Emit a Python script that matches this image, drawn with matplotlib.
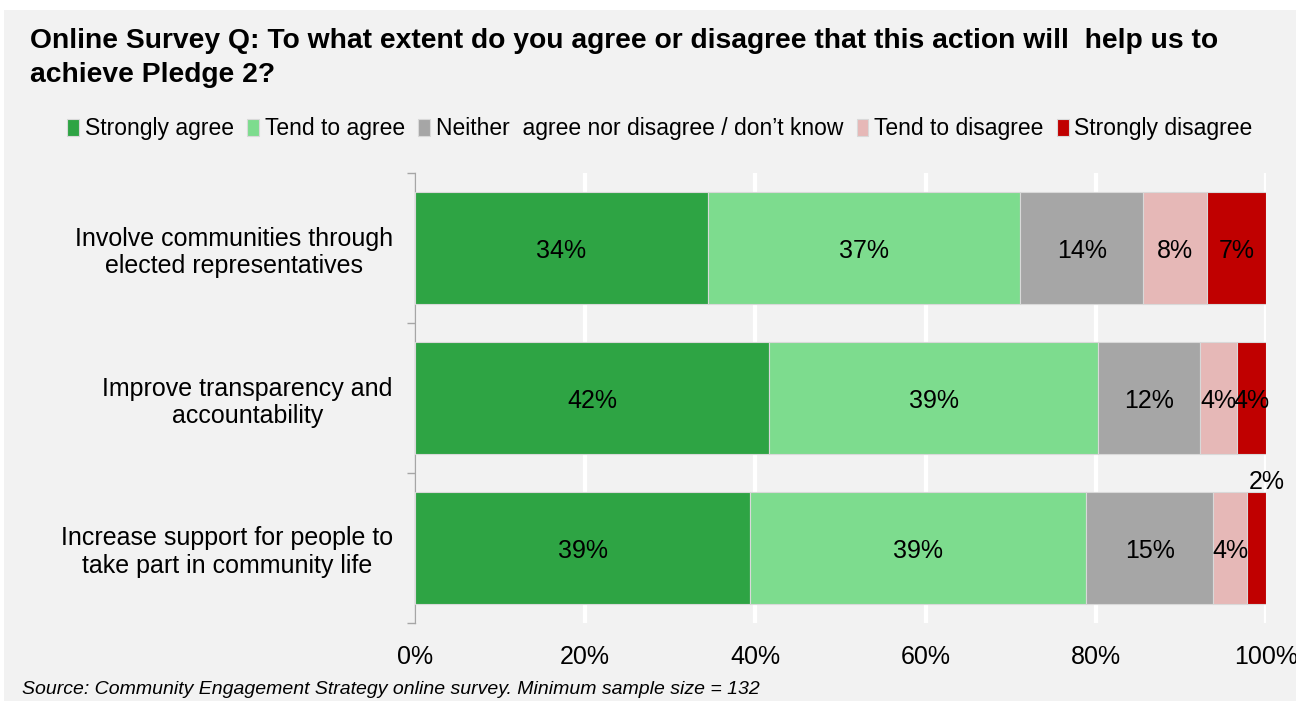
import numpy as np
import matplotlib
matplotlib.use("Agg")
import matplotlib.pyplot as plt
from matplotlib.patches import Rectangle

plt.rcParams['font.family'] = ['Liberation Sans', 'DejaVu Sans']

# data
categories = ["Involve communities through\nelected representatives",
              "Improve transparency and\naccountability",
              "Increase support for people to\ntake part in community life"]
series = ["Strongly agree", "Tend to agree",
          "Neither  agree nor disagree / don\u2019t know",
          "Tend to disagree", "Strongly disagree"]
strongly_agree = [34.4, 41.6, 39.4]
tend_agree = [36.7, 38.7, 39.5]
neither = [14.5, 12.0, 14.9]
tend_disagree = [7.5, 4.3, 4.0]
strongly_disagree = [6.9, 3.4, 2.2]
labels = [["34%", "42%", "39%"],
          ["37%", "39%", "39%"],
          ["14%", "12%", "15%"],
          ["8%", "4%", "4%"],
          ["7%", "4%", "2%"]]
xticks = [0, 20, 40, 60, 80, 100]

colors = ["#2ea444", "#7ddc8e", "#a6a6a6", "#e6b8b7", "#c00000"]
bg = "#f2f2f2"
fs = 18

fig = plt.figure(figsize=(12.96, 7.01), dpi=100)
fig.patch.set_facecolor("white")
fig.patches.append(Rectangle((4 / 1296, 0), 1, 1 - 10 / 701, transform=fig.transFigure,
                             facecolor=bg, edgecolor="none", zorder=-10))

ax = fig.add_axes([415 / 1296, 1 - 623 / 701, 851 / 1296, 450 / 701])
ax.set_facecolor(bg)

y = np.arange(len(categories))
vals = [strongly_agree, tend_agree, neither, tend_disagree, strongly_disagree]
left = np.zeros(len(categories))
for i, v in enumerate(vals):
    v = np.array(v)
    ax.barh(y, v, left=left, height=0.75, color=colors[i], edgecolor="#d9d9d9",
            linewidth=0.8, label=series[i], zorder=3)
    for j in range(len(categories)):
        cx = left[j] + v[j] / 2
        cy = y[j]
        if i == 4 and j == 2:
            # small segment: label sits above the bar
            ax.text(cx + 1.2, cy - 0.46, labels[i][j], ha="center", va="center_baseline",
                    fontsize=fs, zorder=5)
        else:
            ax.text(cx, cy, labels[i][j], ha="center", va="center_baseline",
                    fontsize=fs, zorder=5)
    left += v

ax.set_xlim(0, 100)
ax.set_ylim(2.5, -0.5)
ax.set_xticks(xticks)
ax.set_xticklabels(["{}%".format(t) for t in xticks], fontsize=fs)
ax.tick_params(axis="x", length=0, pad=16)
ax.grid(axis="x", color="white", linewidth=3, zorder=1)
ax.set_axisbelow(True)

ax.set_yticks(y)
ax.set_yticklabels(categories, fontsize=fs, multialignment="center")
ax.tick_params(axis="y", length=0, pad=16)
ax.set_yticks([-0.5, 0.5, 1.5, 2.5], minor=True)
ax.tick_params(axis="y", which="minor", length=6, color="#a6a6a6", width=1)

for s in ["top", "right", "bottom"]:
    ax.spines[s].set_visible(False)
ax.spines["left"].set_color("#a6a6a6")
ax.spines["left"].set_linewidth(1)

fig.text(30 / 1296, 1 - 41 / 701,
         "Online Survey Q: To what extent do you agree or disagree that this action will  help us to",
         fontsize=20.3, fontweight="bold", va="center", ha="left")
fig.text(30 / 1296, 1 - 75 / 701, "achieve Pledge 2?",
         fontsize=20.3, fontweight="bold", va="center", ha="left")

fig.legend(loc="center", bbox_to_anchor=(660 / 1296, 1 - 129 / 701), ncol=5,
           frameon=False, fontsize=16.5, handlelength=0.5, handleheight=0.7,
           handletextpad=0.25, columnspacing=0.6)

fig.text(22 / 1296, 1 - 689 / 701,
         "Source: Community Engagement Strategy online survey. Minimum sample size = 132",
         fontsize=14, style="italic", va="center", ha="left")

fig.savefig("out.png", dpi=100, facecolor=fig.get_facecolor())
